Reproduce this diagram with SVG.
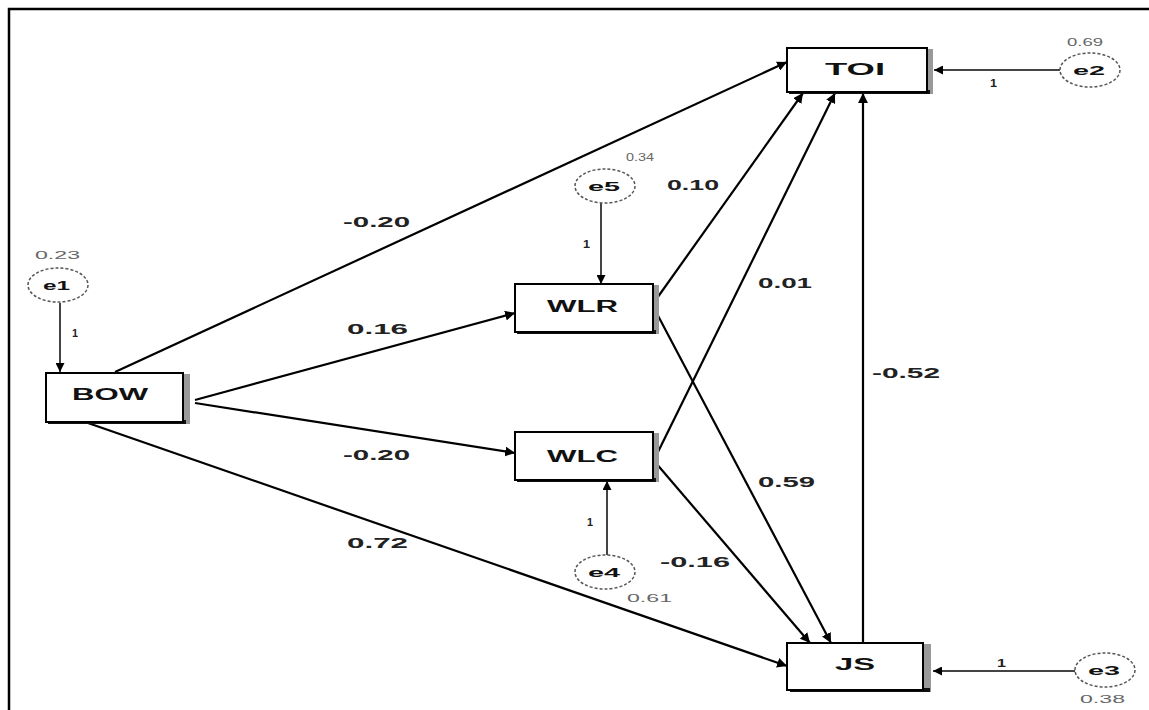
<svg xmlns="http://www.w3.org/2000/svg" width="1149" height="710" viewBox="0 0 1149 710">
<style>
.box{fill:#fff;stroke:#000;stroke-width:2}
.shd{fill:#999}
.bl{fill:#111}
.err{fill:#fff;stroke:#555;stroke-width:1.5;stroke-dasharray:3 2}
text{font-family:"Liberation Sans",Arial,sans-serif}
.nl{font-weight:bold;font-size:16px;fill:#111}
.el{font-weight:bold;font-size:13px;fill:#111}
.lb{font-weight:bold;font-size:15px;fill:#222}
.one{font-weight:bold;font-size:11px;fill:#222}
.sm{font-size:10px;fill:#666}
.ln{stroke:#000;stroke-width:2.2;fill:none;marker-end:url(#ah)}
.eln{stroke:#444;stroke-width:2;fill:none;marker-end:url(#ah)}
</style>
<defs>
<marker id="ah" viewBox="0 0 10 10" refX="10" refY="5" markerWidth="4.5" markerHeight="4.5" orient="auto" markerUnits="strokeWidth">
<path d="M0,0 L10,5 L0,10 z" fill="#000"/>
</marker>
</defs>
<rect width="1149" height="710" fill="#fff"/>
<path d="M9,710 V9 H1149" fill="none" stroke="#000" stroke-width="2.5"/>

<g id="connectors">
<line class="ln" x1="115" y1="372" x2="787" y2="62"/>
<line class="ln" x1="195" y1="400" x2="515" y2="313"/>
<line class="ln" x1="195" y1="403" x2="515" y2="453"/>
<line class="ln" x1="88" y1="423" x2="787" y2="666"/>
<line class="ln" x1="655" y1="301" x2="803" y2="93"/>
<line class="ln" x1="655" y1="458" x2="835" y2="93"/>
<line class="ln" x1="655" y1="310" x2="831" y2="643"/>
<line class="ln" x1="655" y1="462" x2="810" y2="643"/>
<line class="ln" x1="863" y1="643" x2="863" y2="93" stroke-width="3.5"/>
<line class="eln" x1="60" y1="303" x2="60" y2="372"/>
<line class="eln" x1="601" y1="203" x2="601" y2="284"/>
<line class="eln" x1="607" y1="555" x2="607" y2="481"/>
<line class="eln" x1="1060" y1="70" x2="934" y2="70"/>
<line class="eln" x1="1075" y1="671" x2="933" y2="671"/>
<text class="lb" x="343" y="227" textLength="67" lengthAdjust="spacingAndGlyphs">-0.20</text>
<text class="lb" x="347" y="334" textLength="61" lengthAdjust="spacingAndGlyphs">0.16</text>
<text class="lb" x="343" y="460" textLength="67" lengthAdjust="spacingAndGlyphs">-0.20</text>
<text class="lb" x="347" y="548" textLength="61" lengthAdjust="spacingAndGlyphs">0.72</text>
<text class="lb" x="667" y="190" textLength="52" lengthAdjust="spacingAndGlyphs">0.10</text>
<text class="lb" x="758" y="288" textLength="54" lengthAdjust="spacingAndGlyphs">0.01</text>
<text class="lb" x="758" y="487" textLength="57" lengthAdjust="spacingAndGlyphs">0.59</text>
<text class="lb" x="660" y="567" textLength="70" lengthAdjust="spacingAndGlyphs">-0.16</text>
<text class="lb" x="872" y="378" textLength="68" lengthAdjust="spacingAndGlyphs">-0.52</text>
<text class="one" x="72" y="337" textLength="6" lengthAdjust="spacingAndGlyphs">1</text>
<text class="one" x="583" y="248" textLength="7" lengthAdjust="spacingAndGlyphs">1</text>
<text class="one" x="587" y="526" textLength="6" lengthAdjust="spacingAndGlyphs">1</text>
<text class="one" x="990" y="87" textLength="7" lengthAdjust="spacingAndGlyphs">1</text>
<text class="one" x="997" y="667" textLength="9" lengthAdjust="spacingAndGlyphs">1</text>
</g>

<g id="BOW">
<rect class="shd" x="183" y="374" width="7" height="50"/>
<rect class="bl" x="48" y="420" width="138" height="4"/>
<rect class="box" x="46" y="373" width="137" height="49"/>
<text class="nl" x="72" y="400" textLength="76" lengthAdjust="spacingAndGlyphs">BOW</text>
</g>
<g id="WLR">
<rect class="shd" x="653" y="285" width="6" height="49"/>
<rect class="bl" x="517" y="330" width="139" height="4"/>
<rect class="box" x="515" y="284" width="138" height="48"/>
<text class="nl" x="547" y="312" textLength="71" lengthAdjust="spacingAndGlyphs">WLR</text>
</g>
<g id="WLC">
<rect class="shd" x="653" y="433" width="6" height="49"/>
<rect class="bl" x="517" y="478" width="139" height="4"/>
<rect class="box" x="515" y="432" width="138" height="48"/>
<text class="nl" x="547" y="462" textLength="71" lengthAdjust="spacingAndGlyphs">WLC</text>
</g>
<g id="TOI">
<rect class="shd" x="927" y="49" width="6" height="45"/>
<rect class="bl" x="789" y="90" width="141" height="4"/>
<rect class="box" x="787" y="48" width="140" height="44"/>
<text class="nl" x="825" y="75" textLength="60" lengthAdjust="spacingAndGlyphs">TOI</text>
</g>
<g id="JS">
<rect class="shd" x="923" y="644" width="8" height="48"/>
<rect class="bl" x="790" y="688" width="140" height="4"/>
<rect class="box" x="787" y="643" width="136" height="47"/>
<text class="nl" x="835" y="670" textLength="40" lengthAdjust="spacingAndGlyphs">JS</text>
</g>

<g id="e1">
<ellipse class="err" cx="58" cy="285" rx="30" ry="17"/>
<text class="el" x="43" y="290" textLength="27" lengthAdjust="spacingAndGlyphs">e1</text>
<text class="sm" x="35" y="259" textLength="45" lengthAdjust="spacingAndGlyphs">0.23</text>
</g>
<g id="e5">
<ellipse class="err" cx="605" cy="186" rx="30" ry="17"/>
<text class="el" x="588" y="191" textLength="32" lengthAdjust="spacingAndGlyphs">e5</text>
<text class="sm" x="626" y="161" textLength="28" lengthAdjust="spacingAndGlyphs">0.34</text>
</g>
<g id="e4">
<ellipse class="err" cx="605" cy="572" rx="30" ry="17"/>
<text class="el" x="588" y="577" textLength="32" lengthAdjust="spacingAndGlyphs">e4</text>
<text class="sm" x="627" y="602" textLength="45" lengthAdjust="spacingAndGlyphs">0.61</text>
</g>
<g id="e2">
<ellipse class="err" cx="1090" cy="70" rx="30" ry="17"/>
<text class="el" x="1073" y="75" textLength="32" lengthAdjust="spacingAndGlyphs">e2</text>
<text class="sm" x="1067" y="46" textLength="36" lengthAdjust="spacingAndGlyphs">0.69</text>
</g>
<g id="e3">
<ellipse class="err" cx="1105" cy="670" rx="30" ry="17"/>
<text class="el" x="1088" y="675" textLength="32" lengthAdjust="spacingAndGlyphs">e3</text>
<text class="sm" x="1080" y="703" textLength="45" lengthAdjust="spacingAndGlyphs">0.38</text>
</g>
</svg>
